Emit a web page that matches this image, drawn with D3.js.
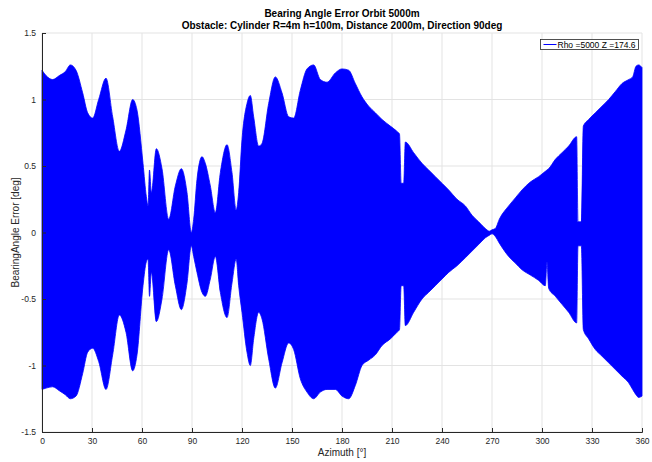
<!DOCTYPE html>
<html>
<head>
<meta charset="utf-8">
<script src="https://cdn.jsdelivr.net/npm/d3@7"></script>
<style>
  body { margin: 0; background: #fff; }
  text { font-family: "Liberation Sans", Arial, sans-serif; }
</style>
</head>
<body>
<div class="chart"></div>
<script>
// envelope of the bearing error signal
const azimuth = [0, 2.4, 6.4, 10.4, 14, 17, 20.4, 24.4, 27.4, 30.4, 34, 38.4, 42.4, 46.4, 50.4, 54.4, 57,
	60.6, 62.6, 63.6, 64.5, 65.6, 68.6, 72, 76, 80, 83.6, 87, 89.6, 91, 93, 96, 98, 101, 104, 107, 111,
	114, 116.5, 118, 120, 123, 125, 127, 130, 132, 136, 140, 144, 148, 151, 155, 159, 163, 167, 171, 176,
	180, 184, 188, 192, 196, 200, 204, 209, 213, 214.5, 215.5, 217, 218, 223, 228, 232, 236, 240, 244, 249,
	254, 258, 262, 266, 268.5, 270, 272, 274.4, 280, 284, 288, 293, 298, 302, 303, 304, 308, 312, 316,
	320.8, 321.6, 323.6, 324.8, 328, 332, 336, 340, 344, 348, 352, 354.4, 356.4, 358, 360];
const upperEnv = [1.22, 1.18, 1.15, 1.18, 1.21, 1.26, 1.22, 1.05, 0.9, 0.86, 1.0, 1.16, 0.87, 0.61, 0.77, 1.0, 0.92,
	0.52, 0.27, 0.2, 0.47, 0.3, 0.63, 0.48, 0.1, 0.35, 0.48, 0.3, 0.0, 0.1, 0.4, 0.57, 0.52, 0.35, 0.15, 0.45, 0.66,
	0.45, 0.17, 0.3, 0.7, 0.97, 1.03, 0.87, 0.65, 0.67, 0.97, 1.17, 1.05, 0.87, 0.86, 1.07, 1.23, 1.26, 1.15, 1.13, 1.2,
	1.23, 1.22, 1.12, 1.02, 0.95, 0.9, 0.85, 0.8, 0.76, 0.74, 0.37, 0.37, 0.68, 0.6, 0.52, 0.47, 0.42, 0.37, 0.32, 0.25,
	0.2, 0.13, 0.08, 0.03, 0.01, 0.02, 0.03, 0.1, 0.2, 0.26, 0.32, 0.38, 0.42, 0.46, 0.47, 0.48, 0.55, 0.6, 0.65,
	0.72, 0.08, 0.08, 0.8, 0.85, 0.9, 0.95, 1.0, 1.06, 1.12, 1.15, 1.17, 1.25, 1.26, 1.24];
const lowerEnv = [-1.18, -1.17, -1.16, -1.19, -1.22, -1.25, -1.23, -1.06, -0.9, -0.87, -0.97, -1.18, -0.92, -0.62, -0.75, -1.04, -0.92,
	-0.4, -0.22, -0.2, -0.48, -0.3, -0.67, -0.5, -0.13, -0.4, -0.58, -0.38, -0.1, -0.18, -0.3, -0.45, -0.48, -0.35, -0.18, -0.45, -0.64,
	-0.38, -0.2, -0.4, -0.6, -0.9, -1.0, -0.8, -0.6, -0.65, -0.95, -1.17, -0.98, -0.83, -0.88, -1.1, -1.2, -1.25, -1.2, -1.18, -1.18,
	-1.23, -1.25, -1.15, -1.0, -0.96, -0.92, -0.85, -0.8, -0.75, -0.73, -0.4, -0.4, -0.7, -0.6, -0.5, -0.45, -0.4, -0.35, -0.3, -0.25,
	-0.19, -0.14, -0.09, -0.04, -0.02, -0.01, -0.03, -0.08, -0.18, -0.23, -0.28, -0.32, -0.36, -0.4, -0.22, -0.42, -0.48, -0.54, -0.6,
	-0.68, -0.1, -0.1, -0.73, -0.8, -0.88, -0.93, -0.98, -1.03, -1.08, -1.13, -1.18, -1.22, -1.24, -1.23];

const xTicks = [0, 30, 60, 90, 120, 150, 180, 210, 240, 270, 300, 330, 360];
const yTicks = [-1.5, -1, -0.5, 0, 0.5, 1, 1.5];

const titleLines = ['Bearing Angle Error Orbit 5000m', 'Obstacle: Cylinder R=4m h=100m, Distance 2000m, Direction 90deg'];
const legendLabel = 'Rho =5000 Z =174.6';

const data = azimuth.map((a, i) => ({az: a, hi: upperEnv[i], lo: lowerEnv[i]}));

const W = 652, H = 462;
const margin = ({top: 33, right: 10, bottom: 30, left: 42});
const width = 600;
const height = 399;

const svg = d3.select(".chart")
	.append("svg")
	.attr("width", W)
	.attr("height", H);

const g = svg.append("g")
	.attr("transform", "translate(" + margin.left + "," + margin.top + ")");

const xScale = d3.scaleLinear().domain([0, 360]).range([0, width]);
const yScale = d3.scaleLinear().domain([-1.5, 1.5]).range([height, 0]);

// grid
g.append("g")
	.selectAll("line.vg")
	.data(xTicks)
	.join("line")
	.attr("x1", d => xScale(d)).attr("x2", d => xScale(d))
	.attr("y1", 0).attr("y2", height)
	.attr("stroke", "#e3e3e3").attr("stroke-width", 1);
g.append("g")
	.selectAll("line.hg")
	.data(yTicks)
	.join("line")
	.attr("x1", 0).attr("x2", width)
	.attr("y1", d => yScale(d)).attr("y2", d => yScale(d))
	.attr("stroke", "#e3e3e3").attr("stroke-width", 1);

// signal envelope
const area = d3.area()
	.curve(d3.curveMonotoneX)
	.x(d => xScale(d.az))
	.y0(d => yScale(d.lo))
	.y1(d => yScale(d.hi));

g.append("path")
	.datum(data)
	.attr("d", area)
	.attr("fill", "#0000ff")
	.attr("stroke", "#0000ff")
	.attr("stroke-width", 0.8);

// axes
const xAxis = d3.axisBottom(xScale).tickValues(xTicks).tickSize(-4).tickPadding(6).tickFormat(d => String(d));
const yAxis = d3.axisLeft(yScale).tickValues(yTicks).tickSize(-4).tickPadding(6).tickFormat(d => String(d));

const gx = g.append("g")
	.attr("transform", `translate(0, ${height})`)
	.call(xAxis);
const gy = g.append("g").call(yAxis);

[gx, gy].forEach(ax => {
	ax.select(".domain").attr("stroke", "#262626").attr("stroke-width", 1);
	ax.selectAll(".tick line").attr("stroke", "#262626");
	ax.selectAll(".tick text").attr("fill", "#262626").attr("font-size", "8.5px")
		.attr("font-family", "Liberation Sans, Arial, sans-serif");
});

// titles
svg.selectAll("text.title")
	.data(titleLines)
	.join("text")
	.attr("class", "title")
	.attr("x", margin.left + width / 2)
	.attr("y", (d, i) => 17 + i * 12)
	.attr("text-anchor", "middle")
	.attr("font-size", "10px")
	.attr("font-weight", "bold")
	.attr("fill", "#000")
	.text(d => d);

// axis labels
svg.append("text")
	.attr("x", margin.left + width / 2)
	.attr("y", 456)
	.attr("text-anchor", "middle")
	.attr("font-size", "10px")
	.attr("fill", "#262626")
	.text("Azimuth [°]");

svg.append("text")
	.attr("transform", `translate(19, ${margin.top + height / 2}) rotate(-90)`)
	.attr("text-anchor", "middle")
	.attr("font-size", "10px")
	.attr("fill", "#262626")
	.text("BearingAngle Error [deg]");

// legend
const lg = svg.append("g").attr("transform", "translate(540.5, 39.5)");
lg.append("rect")
	.attr("width", 98).attr("height", 10)
	.attr("fill", "#fff").attr("stroke", "#262626").attr("stroke-width", 0.8);
lg.append("line")
	.attr("x1", 3).attr("x2", 16).attr("y1", 5).attr("y2", 5)
	.attr("stroke", "#0000ff").attr("stroke-width", 1);
lg.append("text")
	.attr("x", 17).attr("y", 8.2)
	.attr("font-size", "8.5px")
	.attr("fill", "#000")
	.text(legendLabel);
</script>
</body>
</html>
